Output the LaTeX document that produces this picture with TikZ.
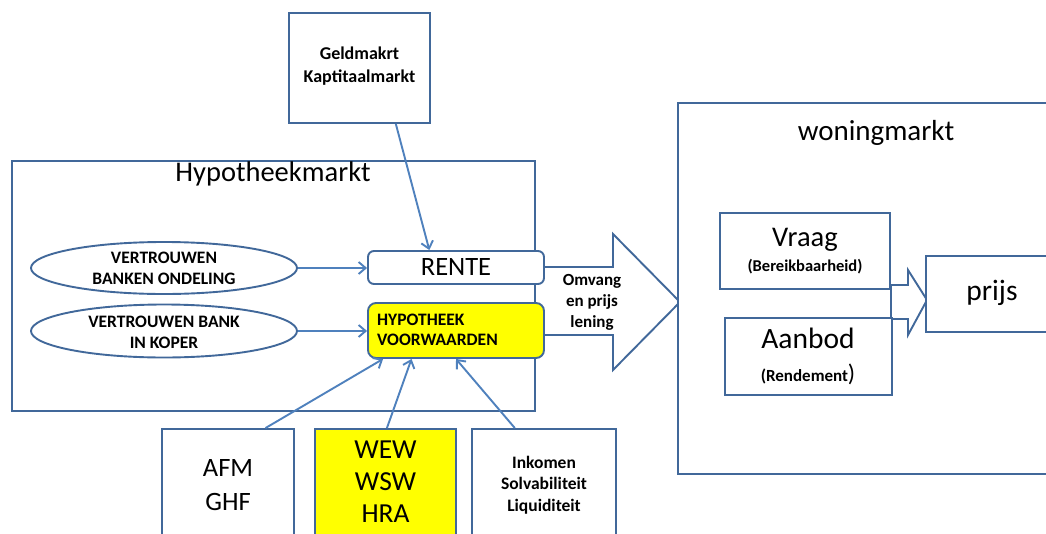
\documentclass[tikz,border=0pt]{standalone}
\usepackage{fontspec}
\setmainfont{Carlito}
\usetikzlibrary{arrows.meta,calc,shapes.geometric}
\definecolor{boxc}{HTML}{41689A}
\definecolor{arrc}{HTML}{4F81BD}
\definecolor{yel}{HTML}{FFFF00}
\newcommand\myfs[2]{\fontsize{#1}{#2}\selectfont}
\tikzset{
  box/.style={draw=boxc, line width=1.9pt, inner sep=0pt, fill=white},
  rbox/.style={box, rounded corners=6pt},
  ell/.style={draw=boxc, line width=1.9pt, ellipse, inner sep=0pt, fill=white, minimum width=266pt},
  arr/.style={draw=arrc, line width=1.9pt, -{Straight Barb[length=7pt,width=12pt]}},
  txt/.style={inner sep=0pt, align=center, text=black},
  small/.style={txt, font=\bfseries\myfs{17.5}{21}},
}
\begin{document}
\begin{tikzpicture}[x=1pt,y=-1pt]
\useasboundingbox (0,0) rectangle (1046,533);
\clip (0,0) rectangle (1046,533);
\fill[white] (0,0) rectangle (1046,533);

% Geldmarkt box
\node[box, minimum width=141pt, minimum height=110pt] (geld) at (359.5,68) {};
\node[small, font=\bfseries\myfs{18}{23}] (geldt) at (359.5,66) {Geldmakrt\\Kaptitaalmarkt};

% Hypotheekmarkt box
\node[box, minimum width=523pt, minimum height=250pt] (hypm) at (273.5,286) {};
\node[txt, font=\myfs{28.5}{30}] (hypmt) at (273,174) {Hypotheekmarkt};

% big block arrow
\draw[boxc, line width=1.9pt, fill=white, line join=miter]
  (545,267) -- (613,267) -- (613,234) -- (680,302) -- (613,370) -- (613,335) -- (545,335);
\node[small, font=\bfseries\myfs{17}{21}] (omv) at (592,302) {Omvang\\en prijs\\lening};

% RENTE and HYPOTHEEK boxes
\node[rbox, minimum width=176pt, minimum height=33pt] (rente) at (456,267.5) {};
\node[txt, font=\myfs{26.5}{28}] (rentet) at (456,267) {RENTE};
\node[rbox, fill=yel, rounded corners=8pt, minimum width=176pt, minimum height=55pt] (hyp) at (456,330.5) {};
\node[txt, anchor=west, align=left, font=\bfseries\myfs{17.5}{20}] (hypt) at (377,330) {HYPOTHEEK\\VOORWAARDEN};

% ellipses
\node[ell, minimum height=52pt] (ell1) at (164,268) {};
\node[small] (ell1t) at (164,268) {VERTROUWEN\\BANKEN ONDELING};
\node[ell, minimum height=53pt] (ell2) at (164,331) {};
\node[small] (ell2t) at (164,332) {VERTROUWEN BANK\\IN KOPER};

% bottom boxes
\node[box, minimum width=132pt, minimum height=116pt] (afm) at (228,487) {};
\node[txt, font=\myfs{26.5}{34}] (afmt) at (228,485) {AFM\\GHF};
\node[box, fill=yel, minimum width=141pt, minimum height=106pt] (wew) at (385.5,482) {};
\node[txt, font=\myfs{27.5}{32}] (wewt) at (385.5,482) {WEW\\WSW\\HRA};
\node[box, minimum width=144pt, minimum height=112pt] (ink) at (544,485) {};
\node[small, font=\bfseries\myfs{17.5}{21.5}] (inkt) at (544,485) {Inkomen\\Solvabiliteit\\Liquiditeit};

% woningmarkt
\node[box, minimum width=380pt, minimum height=371pt] (won) at (868,288.5) {};
\node[txt, font=\myfs{29}{30}] (wont) at (876,133) {woningmarkt};

% small block arrow
\draw[boxc, line width=1.9pt, fill=white, line join=miter]
  (891,285) -- (908,285) -- (908,270) -- (927,300) -- (908,335) -- (908,319) -- (891,319) -- cycle;

\node[box, minimum width=170pt, minimum height=76pt] (vraag) at (805,251) {};
\node[txt, font=\myfs{28.5}{30}] (vraagt) at (805,240) {Vraag};
\node[txt, font=\bfseries\myfs{16.5}{18}] (vraags) at (805,267) {(Bereikbaarheid)};
\node[box, minimum width=167pt, minimum height=77pt] (aanbod) at (808.5,356.5) {};
\node[txt, font=\myfs{29.5}{31}] (aanbodt) at (808,338) {Aanbod};
\node[txt, font=\bfseries\myfs{17}{19}] (aanbods) at (808,374) {(Rendement{\mdseries\myfs{24}{26})}};
\node[box, minimum width=140pt, minimum height=76pt] (prijs) at (996,294) {};
\node[txt, font=\myfs{29.5}{31}] (prijst) at (992,293) {prijs};

% connectors
\draw[arr] (geld.-57) -- ($(rente.north west)!0.35!(rente.north east)$);
\draw[arr] (ell1.east) -- (ell1.east -| rente.west);
\draw[arr] (ell2.east) -- (ell2.east -| hyp.west);
\draw[arr] ($(afm.north west)!0.78!(afm.north east)$) -- ($(hyp.south west)!0.09!(hyp.south east)$);
\draw[arr] ($(wew.north west)!0.51!(wew.north east)$) -- ($(hyp.south west)!0.25!(hyp.south east)$);
\draw[arr] ($(ink.north west)!0.3!(ink.north east)$) -- (hyp.south);
\end{tikzpicture}
\end{document}
